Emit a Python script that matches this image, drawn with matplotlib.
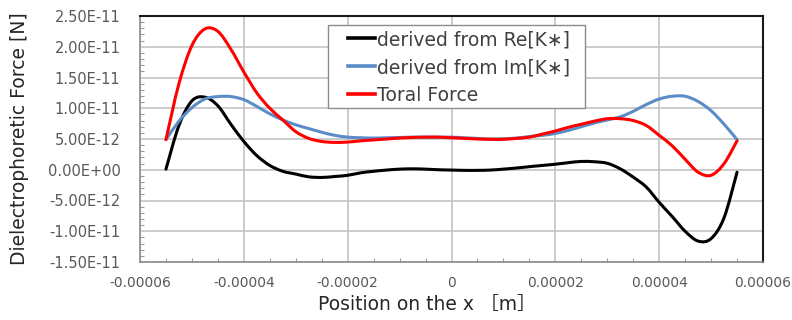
import numpy as np
import matplotlib
matplotlib.use("Agg")
import matplotlib.pyplot as plt
from matplotlib.ticker import FixedLocator, FuncFormatter
from matplotlib.path import Path
from matplotlib.patches import PathPatch, Rectangle
from matplotlib.lines import Line2D

plt.rcParams['font.family'] = ['DejaVu Sans', 'Noto Sans CJK JP']

# Position on x [m] (in micrometres, converted below)
x_um = [-55, -52.5, -50, -47.5, -45, -42.5, -40, -37.5, -35, -32.5, -30, -27.5, -25, -22.5,
        -20, -17.5, -15, -12.5, -10, -7.5, -5, -2.5, 0, 2.5, 5, 7.5, 10, 12.5, 15, 17.5,
        20, 22.5, 25, 27.5, 30, 32.5, 35, 37.5, 40, 42.5, 45, 47.5, 50, 52.5, 55]

# Forces in units of 1e-12 N
re_force = [0.1, 7.2, 11.2, 11.8, 10.4, 7.4, 4.6, 2.3, 0.7, -0.25, -0.7, -1.15, -1.25, -1.1,
            -0.9, -0.5, -0.25, -0.05, 0.1, 0.15, 0.1, 0.0, -0.05, -0.1, -0.1, -0.05, 0.1, 0.28,
            0.5, 0.7, 0.9, 1.15, 1.35, 1.3, 1.05, 0.15, -1.2, -2.8, -5.3, -7.6, -10.0, -11.6,
            -11.2, -7.8, -0.4]
im_force = [4.9, 7.9, 10.1, 11.5, 11.9, 11.9, 11.4, 10.3, 9.1, 8.1, 7.3, 6.7, 6.1, 5.6,
            5.3, 5.2, 5.15, 5.2, 5.25, 5.3, 5.3, 5.3, 5.3, 5.2, 5.1, 5.0, 5.05, 5.15,
            5.4, 5.6, 5.9, 6.4, 7.0, 7.6, 8.1, 8.6, 9.5, 10.6, 11.5, 11.95, 11.95, 11.1,
            9.6, 7.4, 4.9]
total_force = [4.9, 14.0, 20.2, 22.9, 22.5, 19.6, 15.9, 12.5, 10.0, 8.1, 6.2, 5.1, 4.6, 4.45,
               4.5, 4.7, 4.85, 5.0, 5.15, 5.25, 5.3, 5.3, 5.2, 5.1, 5.0, 4.95, 4.95, 5.1,
               5.3, 5.8, 6.3, 6.9, 7.4, 7.9, 8.3, 8.3, 8.0, 7.2, 5.6, 3.9, 1.7, -0.4,
               -0.9, 1.0, 4.7]

x_ticks = [-0.00006, -0.00004, -0.00002, 0.0, 0.00002, 0.00004, 0.00006]
y_ticks = [-1.5e-11, -1.0e-11, -5e-12, 0.0, 5e-12, 1.0e-11, 1.5e-11, 2.0e-11, 2.5e-11]

series_labels = ["derived from Re[K\u2217]", "derived from Im[K\u2217]", "Toral Force"]
series_colors = ["#000000", "#5B8CC8", "#FF0000"]

x = np.array(x_um) * 1e-6
ys = [np.array(v) * 1e-12 for v in (re_force, im_force, total_force)]


def smooth_path(px, py):
    """Excel-style smoothed line: Bezier curve through every data point."""
    pts = np.column_stack([px, py])
    n = len(pts)
    verts = [pts[0]]
    codes = [Path.MOVETO]
    for i in range(n - 1):
        p0 = pts[i - 1] if i > 0 else pts[i]
        p1 = pts[i]
        p2 = pts[i + 1]
        p3 = pts[i + 2] if i + 2 < n else pts[i + 1]
        c1 = p1 + (p2 - p0) / 6.0
        c2 = p2 - (p3 - p1) / 6.0
        verts += [c1, c2, p2]
        codes += [Path.CURVE4] * 3
    return Path(verts, codes)


fig = plt.figure(figsize=(7.92, 3.2), dpi=100)
ax = fig.add_axes([140 / 792, 1 - 262 / 320, (763 - 140) / 792, (262 - 16) / 320])

handles = []
for y, lab, c in zip(ys, series_labels, series_colors):
    patch = PathPatch(smooth_path(x, y), facecolor='none', edgecolor=c, lw=2.2,
                      capstyle='round', joinstyle='round', zorder=3)
    ax.add_patch(patch)
    handles.append(Line2D([], [], color=c, lw=2.6, label=lab))

ax.set_xlim(x_ticks[0], x_ticks[-1])
ax.set_ylim(y_ticks[0], y_ticks[-1])
ax.xaxis.set_major_locator(FixedLocator(x_ticks))
ax.xaxis.set_minor_locator(FixedLocator(np.linspace(x_ticks[0], x_ticks[-1], 25)))
ax.yaxis.set_major_locator(FixedLocator(y_ticks))
ax.yaxis.set_minor_locator(FixedLocator(np.linspace(y_ticks[0], y_ticks[-1], 41)))


def xfmt(v, pos):
    if abs(v) < 1e-12:
        return "0"
    return f"{v:.5f}"


def yfmt(v, pos):
    return f"{v:.2E}"


ax.xaxis.set_major_formatter(FuncFormatter(xfmt))
ax.yaxis.set_major_formatter(FuncFormatter(yfmt))
ax.yaxis.offsetText.set_visible(False)
ax.xaxis.offsetText.set_visible(False)

ax.grid(True, which='major', color='#BFBFBF', lw=1.1, zorder=0)
ax.tick_params(which='major', length=0, colors='#595959')
ax.tick_params(axis='y', which='major', pad=14, labelsize=10.5)
ax.tick_params(axis='x', which='major', pad=10, labelsize=10)
ax.tick_params(which='minor', direction='in', length=3, color='#9A9A9A', width=0.8)

for side in ('left', 'bottom'):
    ax.spines[side].set_color('#8C8C8C')
    ax.spines[side].set_linewidth(1.2)
for side in ('top', 'right'):
    ax.spines[side].set_color('#1A1A1A')
    ax.spines[side].set_linewidth(1.5)

ax.set_ylabel("Dielectrophoretic Force [N]", fontsize=13.5, color='#262626')
ax.yaxis.set_label_coords(-0.178, 0.5)
ax.set_xlabel("Position on the x \uff3bm\uff3d", fontsize=13.5, color='#262626')
ax.xaxis.set_label_coords(0.46, -0.135)

# legend frame (Excel-like: wide horizontal padding, tight vertical padding)
frame = Rectangle((328 / 792, 1 - 108 / 320), (585 - 328) / 792, (108 - 25) / 320,
                  transform=fig.transFigure, facecolor='white', edgecolor='#8C8C8C',
                  lw=1.0, zorder=4.5)
ax.add_artist(frame)
leg = ax.legend(handles=handles, loc='upper left',
                bbox_to_anchor=(348 / 792, 1 - 30 / 320), bbox_transform=fig.transFigure,
                fontsize=13.5, frameon=False, handlelength=1.45, handletextpad=0.1,
                borderpad=0, labelspacing=0.48, borderaxespad=0)
leg.set_zorder(5)
for t in leg.get_texts():
    t.set_color('#404040')

fig.savefig("out.png", dpi=100)
